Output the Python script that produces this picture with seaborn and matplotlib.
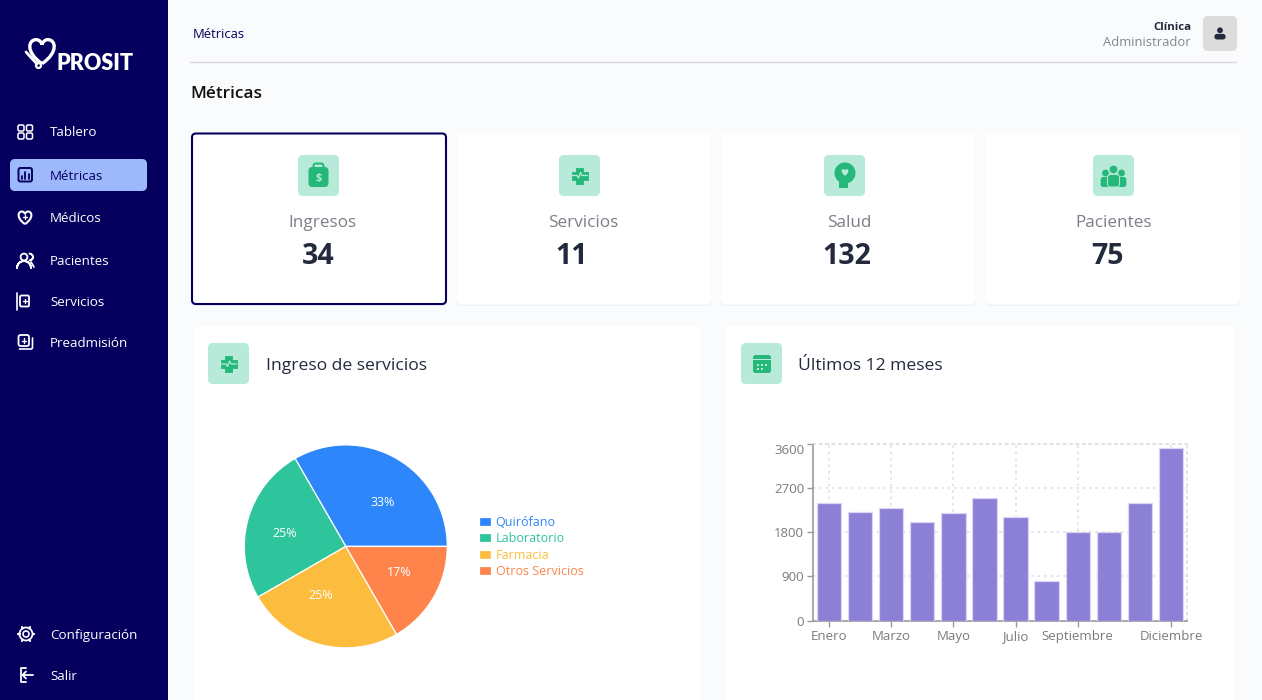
import matplotlib
matplotlib.use("Agg")
import matplotlib.pyplot as plt
from matplotlib.patches import FancyBboxPatch, Circle, Rectangle, Wedge, PathPatch, Polygon
from matplotlib.path import Path
import numpy as np
import pandas as pd
import seaborn as sns

# ---------- data ----------
months = ["Enero", "Febrero", "Marzo", "Abril", "Mayo", "Junio", "Julio",
          "Agosto", "Septiembre", "Octubre", "Noviembre", "Diciembre"]
monthly_values = [2400, 2210, 2290, 2000, 2180, 2500, 2100, 800, 1800, 1800, 2400, 3500]
shown_months = ["Enero", "Marzo", "Mayo", "Julio", "Septiembre", "Diciembre"]
y_ticks = [0, 900, 1800, 2700, 3600]

pie_labels = ["Quirófano", "Laboratorio", "Farmacia", "Otros Servicios"]
pie_shares = [4, 3, 3, 2]

kpi_titles = ["Ingresos", "Servicios", "Salud", "Pacientes"]
kpi_values = ["34", "11", "132", "75"]

menu_top = ["Tablero", "Métricas", "Médicos", "Pacientes", "Servicios", "Preadmisión"]
menu_bottom = ["Configuración", "Salir"]

# ---------- style ----------
sns.set_theme(style="white")
plt.rcParams["font.family"] = ["Open Sans", "DejaVu Sans"]
W, H = 1262, 700
NAVY = "#05005e"
INK = "#232a3d"
GREY = "#7c7f87"
MINT = "#b7ead8"
GREEN = "#25b87a"
PIE_COLORS = ["#2e86fb", "#2ec49c", "#fcbd3f", "#fe844c"]
BAR = "#8b80d6"

fig = plt.figure(figsize=(W / 100, H / 100), dpi=100, facecolor="#fafbfd")
bg = fig.add_axes([0, 0, 1, 1])
bg.set_xlim(0, W)
bg.set_ylim(H, 0)
bg.axis("off")


def box(x0, y0, x1, y1, r=4, fc="white", ec="none", lw=0, z=1, ax=bg):
    p = FancyBboxPatch((x0 + r, y0 + r), x1 - x0 - 2 * r, y1 - y0 - 2 * r,
                       boxstyle=f"round,pad={r},rounding_size={r}",
                       fc=fc, ec=ec, lw=lw, zorder=z)
    ax.add_patch(p)
    return p


def label(x, y, s, size, color, weight="normal", ha="left", z=5):
    bg.text(x, y, s, fontsize=size, color=color, fontweight=weight, ha=ha,
            va="center_baseline", zorder=z)


def heart(cx, cy, s, fc="none", ec="white", lw=1.4, z=4):
    verts = [(0, 0.9), (-1.3, 0.0), (-1.05, -0.95), (-0.45, -0.95), (-0.15, -0.95), (0, -0.65), (0, -0.55),
             (0, -0.65), (0.15, -0.95), (0.45, -0.95), (1.05, -0.95), (1.3, 0.0), (0, 0.9)]
    codes = [Path.MOVETO] + [Path.CURVE4] * 12
    verts = [(cx + vx * s, cy + vy * s) for vx, vy in verts]
    bg.add_patch(PathPatch(Path(verts, codes), fc=fc, ec=ec, lw=lw, zorder=z))


def line(xs, ys, color="white", lw=1.3, z=4):
    bg.plot(xs, ys, color=color, lw=lw, zorder=z, solid_capstyle="round")


def ring(x, y, r, color="white", lw=1.3, fc="none", z=4):
    bg.add_patch(Circle((x, y), r, fc=fc, ec=color, lw=lw, zorder=z))


def person(cx, cy, s, color, z=6):
    bg.add_patch(Circle((cx, cy - 3.2 * s), 2.9 * s, fc=color, ec="none", zorder=z))
    box(cx - 5.6 * s, cy + 0.4 * s, cx + 5.6 * s, cy + 6 * s, r=2.6 * s, fc=color, z=z)


def cross(cx, cy):
    bg.add_patch(Polygon([(cx - 3.5, cy - 8), (cx + 3.5, cy - 8), (cx + 3.5, cy - 4), (cx + 8, cy - 4),
                          (cx + 8, cy + 4), (cx + 3.5, cy + 4), (cx + 3.5, cy + 8), (cx - 3.5, cy + 8),
                          (cx - 3.5, cy + 4), (cx - 8, cy + 4), (cx - 8, cy - 4), (cx - 3.5, cy - 4)],
                         fc=GREEN, ec=GREEN, lw=0.6, joinstyle="round", zorder=6))
    line([cx - 8, cx - 2.5, cx - 1, cx + 1, cx + 2.5, cx + 8], [cy, cy, cy + 2.5, cy - 3, cy, cy],
         color=MINT, lw=0.9, z=7)


def mint_box(x0, y0, s=41):
    box(x0, y0, x0 + s, y0 + s, r=5, fc=MINT, z=3)


# ---------- sidebar ----------
bg.add_patch(Rectangle((0, 0), 168, H, fc=NAVY, ec="none", zorder=1))
box(10, 159, 147, 191, r=5, fc="#9db8fb", z=2)
menu_ys = [131.5, 174.5, 217.5, 260, 301, 342]
for name, y in zip(menu_top, menu_ys):
    label(50, y, name, 9.6, NAVY if name == "Métricas" else "white")
for name, y in zip(menu_bottom, [634, 675]):
    label(50, y, name, 9.6, "white")

# logo
heart(42, 52, 13, ec="white", lw=2.4)
heart(33, 54, 8, ec="white", lw=0)
line([26, 37], [52, 64], lw=2)
ring(38.5, 65.5, 2.5, lw=1.6)
bg.add_patch(Rectangle((24, 36), 36, 8, fc=NAVY, ec="none", zorder=3.5, alpha=0))
bg.text(56, 61, "PROSIT", fontsize=15.5, color="white", fontweight="heavy", ha="left",
        va="center_baseline", zorder=6, fontfamily=["Lato", "DejaVu Sans"])

# menu icons
for ix, iy in [(18, 125), (26.5, 125), (18, 133), (26.5, 133)]:
    box(ix, iy, ix + 6, iy + 6, r=1.5, ec="white", lw=1.1, fc="none", z=4)
box(18.5, 168, 32, 181.5, r=2, ec=NAVY, lw=1.4, fc="none", z=4)
for bx, t in [(22, 176), (25.3, 172), (28.5, 174)]:
    line([bx, bx], [t, 179], color=NAVY, lw=1.3)
heart(25, 218, 6.8, ec="white", lw=1.5)
line([23, 27], [217, 217], lw=1)
line([25, 25], [215, 219], lw=1)
ring(24, 257, 3.4)
bg.add_patch(Wedge((24, 268), 7, 180, 360, width=0.01, fc="none", ec="white", lw=1.4, zorder=4))
bg.add_patch(Wedge((29.5, 257), 3.4, 270, 90, width=0.01, fc="none", ec="white", lw=1.2, zorder=4))
line([31, 34], [262, 267], lw=1.3)
line([17, 17], [293, 310], lw=1.2)
box(20, 295.5, 29, 306.5, r=1.5, ec="white", lw=1.3, fc="none", z=4)
line([22.5, 26.5], [301, 301], lw=1)
line([24.5, 24.5], [299, 303], lw=1)
box(18.5, 335, 29, 346, r=2, ec="white", lw=1.3, fc="none", z=4)
line([21.5, 26], [340.5, 340.5], lw=1)
line([23.7, 23.7], [338, 343], lw=1)
line([19.5, 31.5, 32.5, 32.5], [349, 349, 348, 338], lw=1.2)
ring(26, 634, 3, lw=1.2)
ring(26, 634, 6.5, lw=1.3)
for a in np.deg2rad(np.arange(0, 360, 60)):
    line([26 + 6.5 * np.cos(a), 26 + 8 * np.cos(a)], [634 + 6.5 * np.sin(a), 634 + 8 * np.sin(a)], lw=1.6)
line([26, 21, 21, 26], [668, 668, 682, 682], lw=1.3)
line([33, 23], [675, 675], lw=1.3)
line([26, 22.5, 26], [671.5, 675, 678.5], lw=1.3)

# ---------- header ----------
label(193, 33, "Métricas", 9.4, NAVY)
bg.plot([190, 1236], [62, 62], color="#d9d9dc", lw=1, zorder=2)
label(1191, 26, "Clínica", 8.2, INK, weight="bold", ha="right")
label(1191, 41.5, "Administrador", 9.4, "#85878d", ha="right")
box(1203, 16, 1237, 51, r=5, fc="#dcdcdc", z=3)
person(1220, 33.5, 1.0, INK)
label(190, 91.5, "Métricas", 12.4, "#111111", weight="semibold")

# ---------- KPI cards ----------
card_spans = [(192, 446), (457, 711), (721, 975), (986, 1240)]
icon_xs = [298, 559, 824, 1093]
title_xs = [322, 583.5, 849, 1113.5]
value_xs = [318, 571.5, 847, 1107]
for i, (x0, x1) in enumerate(card_spans):
    box(x0, 134, x1, 306, r=5, fc="#f0f1f4", z=1)
    if i == 0:
        box(x0, 133.5, x1, 304, r=4, fc="white", ec=NAVY, lw=1.5, z=2)
    else:
        box(x0, 133, x1, 304.5, r=5, fc="white", z=2)
    mint_box(icon_xs[i], 155)
    label(title_xs[i], 221, kpi_titles[i], 12.3, GREY, ha="center")
    label(value_xs[i], 253, kpi_values[i], 20.5, INK, weight="bold", ha="center")

# bag icon
box(308.5, 167, 328.5, 187, r=4, fc=GREEN, z=6)
box(313.5, 163.5, 323.5, 172, r=2.5, ec=GREEN, lw=1.5, fc="none", z=5)
bg.text(318.5, 178, "$", fontsize=8, fontweight="bold", color=MINT, ha="center", va="center", zorder=7)
cross(579.5, 175.5)
# head icon
bg.add_patch(Circle((845, 173), 10.5, fc=GREEN, ec="none", zorder=6))
bg.add_patch(Rectangle((839, 178), 9, 10, fc=GREEN, ec="none", zorder=6))
heart(845, 172.5, 3.6, fc=MINT, ec="none", lw=0, z=7)
# people icon
for cx, cy, s in [(1105.5, 176, 0.95), (1121.5, 176, 0.95)]:
    bg.add_patch(Circle((cx, cy - 3), 3.4, fc=GREEN, ec="none", zorder=6))
    box(cx - 4.8, cy + 1, cx + 4.8, cy + 11, r=2.5, fc=GREEN, z=6)
bg.add_patch(Circle((1113.5, 169.5), 4.4, fc=GREEN, ec=MINT, lw=0.7, zorder=7))
box(1107.5, 174.5, 1119.5, 187, r=3, fc=GREEN, ec=MINT, lw=0.7, z=7)

# ---------- panels ----------
for x0, x1 in [(192, 702), (724, 1235)]:
    box(x0, 326, x1, 712, r=5, fc="#f3f4f7", z=1)
    box(x0 + 0.5, 326, x1 - 0.5, 712, r=5, fc="white", z=2)
mint_box(208, 343)
cross(228.5, 364)
label(266, 363.5, "Ingreso de servicios", 12.6, INK, weight="medium")
mint_box(741, 343)
box(753, 355, 771, 373, r=2.5, fc=GREEN, z=6)
bg.add_patch(Rectangle((753, 358.5), 18, 1.4, fc=MINT, ec="none", zorder=7))
for dx, dy in [(757, 364), (761, 364), (765, 364), (757, 368), (761, 368)]:
    bg.add_patch(Rectangle((dx, dy), 2, 2, fc=MINT, ec="none", zorder=7))
label(798, 363.5, "Últimos 12 meses", 12.6, INK, weight="medium")

# ---------- pie chart ----------
PIE_CX, PIE_CY, PIE_R = 345.8, 546.4, 101.5
pie_ax = fig.add_axes([(PIE_CX - PIE_R) / W, 1 - (PIE_CY + PIE_R) / H, 2 * PIE_R / W, 2 * PIE_R / H], zorder=3)
wedges, _, autotexts = pie_ax.pie(pie_shares, colors=PIE_COLORS, startangle=0, counterclock=True,
                                  autopct="%.0f%%", radius=1,
                                  wedgeprops=dict(edgecolor="white", linewidth=0.9),
                                  textprops=dict(color="white", fontsize=9))
pie_ax.set_xlim(-1, 1)
pie_ax.set_ylim(-1, 1)
for t, (ox, oy) in zip(autotexts, [(0.366, 0.43), (-0.598, 0.128), (-0.246, -0.48), (0.522, -0.256)]):
    t.set_position((ox, oy))
    t.set_va("center")
    t.set_ha("center")
fig.legend(wedges, pie_labels, loc="upper left", bbox_to_anchor=(475 / W, 1 - 512 / H),
           frameon=False, fontsize=9, labelcolor=PIE_COLORS, handlelength=1.0, handleheight=0.75,
           handletextpad=0.35, labelspacing=0.28, borderpad=0, borderaxespad=0.3)

# ---------- bar chart ----------
AX_L, AX_R, AX_T, AX_B = 813.3, 1186.7, 443.5, 620.7
bar_ax = fig.add_axes([AX_L / W, 1 - AX_B / H, (AX_R - AX_L) / W, (AX_B - AX_T) / H], zorder=3)
bar_ax.patch.set_alpha(0)
frame = pd.DataFrame({"mes": months, "valor": monthly_values})
sns.barplot(data=frame, x="mes", y="valor", color=BAR, saturation=1, width=0.79,
            edgecolor="#d9d5f3", linewidth=0.9, ax=bar_ax, zorder=3)
bar_ax.set_xlim(-0.5, len(months) - 0.5)
bar_ax.set_ylim(0, 3600)
bar_ax.set_xlabel("")
bar_ax.set_ylabel("")
bar_ax.set_xticks([months.index(m) for m in shown_months], shown_months)
bar_ax.set_yticks(y_ticks, [str(v) for v in y_ticks])
dots = (0, (1.6, 2.6))
bar_ax.grid(True, color="#dcdcdc", lw=1.1, linestyle=dots, zorder=0)
bar_ax.set_axisbelow(True)
for side in ("top", "right"):
    bar_ax.spines[side].set(visible=True, color="#dcdcdc", linewidth=1.1, linestyle=dots)
for side in ("left", "bottom"):
    bar_ax.spines[side].set(visible=True, color="#999999", linewidth=1.2)
bar_ax.tick_params(axis="both", length=4.5, width=1, color="#999999", labelcolor="#7b7b7b",
                   labelsize=9.5, pad=2, left=True, bottom=True)
bar_ax.get_yticklabels()[-1].set_va("top")

fig.savefig("out.png", dpi=100, facecolor=fig.get_facecolor())
